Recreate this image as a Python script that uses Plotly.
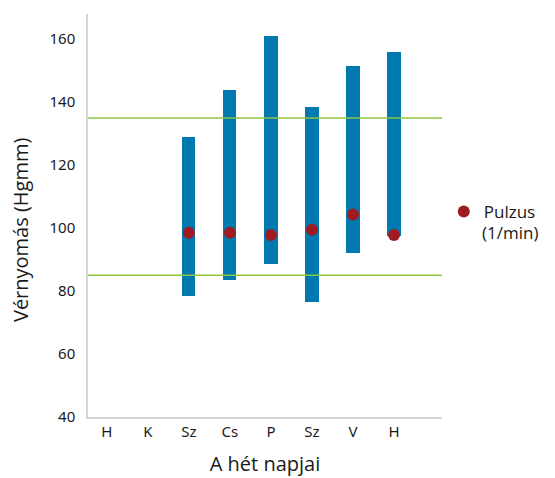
import plotly.graph_objects as go

days = ["H", "K", "Sz", "Cs", "P", "Sz", "V", "H"]
bp_high = [None, None, 129, 144, 161, 138.5, 151.5, 156]
bp_low = [None, None, 78.5, 83.5, 88.5, 76.5, 92, 97.5]
pulse = [None, None, 98.5, 98.5, 97.8, 99.5, 104.3, 97.8]
normal_upper = 135
normal_lower = 85
y_ticks = [40, 60, 80, 100, 120, 140, 160]

x = list(range(len(days)))
heights = [None if h is None else h - l for h, l in zip(bp_high, bp_low)]

fig = go.Figure()
fig.add_trace(go.Bar(
    x=x, y=heights, base=bp_low, width=0.32,
    marker=dict(color="#0079B1", line=dict(width=0)),
    showlegend=False, hoverinfo="skip",
))
fig.add_trace(go.Scatter(
    x=x, y=pulse, mode="markers", name="Pulzus",
    marker=dict(color="#9E1B22", size=12),
))
for v in (normal_upper, normal_lower):
    fig.add_shape(type="line", xref="paper", x0=0, x1=1, yref="y", y0=v, y1=v,
                  line=dict(color="#8DC63F", width=1.5))

fig.add_annotation(
    text="Vérnyomás (Hgmm)", textangle=-90, showarrow=False,
    xref="paper", yref="paper", x=-0.192, y=0.464, xanchor="center", yanchor="middle",
    font=dict(size=20, family="Open Sans, sans-serif", color="#1a1a1a"),
)
fig.add_annotation(
    text="(1/min)", showarrow=False,
    xref="paper", yref="paper", x=1.108, y=0.457, xanchor="left", yanchor="middle",
    font=dict(size=17, family="Open Sans, sans-serif", color="#1a1a1a"),
)

fig.update_layout(
    width=547, height=470,
    margin=dict(l=80, r=113, t=6, b=61, autoexpand=False),
    paper_bgcolor="white", plot_bgcolor="white",
    font=dict(family="Noto Sans, sans-serif", color="#1a1a1a", size=15),
    xaxis=dict(
        range=[-0.46, 8.17], tickmode="array", tickvals=x, ticktext=days,
        showgrid=False, zeroline=False, showline=True, linecolor="#d4d4d4", linewidth=1.5,
        ticks="", tickfont=dict(size=15), automargin=False,
        title=dict(text="A hét napjai", font=dict(size=20, family="Open Sans, sans-serif"), standoff=17),
    ),
    yaxis=dict(
        range=[40, 168], tickmode="array", tickvals=y_ticks,
        showgrid=False, zeroline=False, showline=True, linecolor="#d4d4d4", linewidth=1.5,
        ticks="outside", ticklen=8, tickcolor="rgba(0,0,0,0)", tickfont=dict(size=15),
        automargin=False,
    ),
    legend=dict(x=1.005, y=0.509, xanchor="left", yanchor="middle",
                font=dict(size=17, family="Open Sans, sans-serif"), itemsizing="constant"),
    bargap=0,
)

fig.write_html("out.html")
